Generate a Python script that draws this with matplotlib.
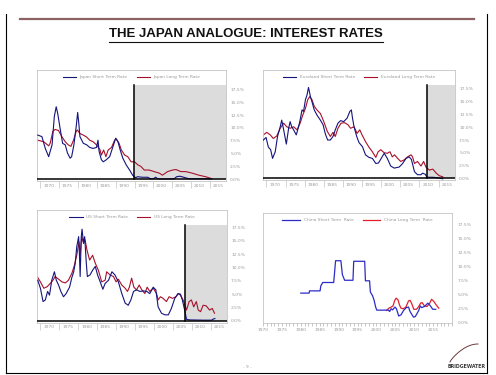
import numpy as np
import matplotlib
matplotlib.use("Agg")
import matplotlib.pyplot as plt
from matplotlib.lines import Line2D

W, H = 496, 375

# ---- data (% p.a.) ----
jp_short_yr = [1969.3, 1970.4, 1971.3, 1972.2, 1973.1, 1973.7, 1974.2, 1974.6, 1975.3, 1975.9,
               1976.6, 1977.2, 1977.9, 1978.3, 1978.9, 1979.5, 1979.9, 1980.2, 1980.5, 1981.4,
               1982.3, 1983.1, 1984.0, 1984.9, 1985.3, 1985.6, 1986.2, 1986.7, 1987.5, 1988.4,
               1989.3, 1990.0, 1990.6, 1991.2, 1991.9, 1992.8, 1993.7, 1994.5, 1995.3, 1995.8,
               1997.0, 1998.5, 1999.3, 2000.0, 2000.6, 2001.2, 2003.0, 2005.5, 2006.2, 2007.0,
               2007.6, 2008.5, 2009.5, 2012.0, 2015.2]
jp_short = [8.6, 8.3, 6.0, 4.4, 6.7, 12.2, 14.1, 12.8, 9.6, 7.0,
            6.7, 5.1, 4.1, 4.4, 6.7, 10.2, 13.0, 10.9, 8.3, 7.0,
            6.7, 6.2, 6.0, 6.2, 7.6, 5.4, 3.8, 3.4, 3.8, 4.4,
            6.4, 8.0, 7.3, 5.7, 4.1, 2.8, 1.8, 0.8, 0.3, 0.5,
            0.4, 0.4, 0.1, 0.1, 0.4, 0.1, 0.05, 0.1, 0.5, 0.6,
            0.5, 0.3, 0.1, 0.1, 0.1]
jp_long_yr = [1969.3, 1970.9, 1972.2, 1972.6, 1973.3, 1973.9, 1974.8, 1975.7, 1976.6, 1977.4,
              1978.1, 1978.8, 1979.5, 1979.8, 1980.5, 1981.4, 1982.3, 1983.1, 1984.0, 1984.9,
              1985.8, 1986.2, 1986.8, 1987.4, 1988.0, 1988.9, 1989.7, 1990.2, 1990.9, 1991.5,
              1992.4, 1993.2, 1994.1, 1995.0, 1995.9, 1996.7, 1997.6, 1998.9, 2000.2, 2001.6,
              2002.4, 2003.8, 2005.1, 2006.0, 2007.3, 2008.6, 2010.3, 2012.1, 2013.9, 2015.2, 2015.6]
jp_long = [7.6, 7.3, 6.5, 7.0, 9.3, 9.7, 9.5, 8.3, 7.3, 6.7,
           6.4, 7.6, 9.3, 9.6, 8.9, 8.6, 8.2, 7.6, 7.3, 6.7,
           5.8, 4.7, 5.7, 4.4, 5.7, 6.2, 7.6, 7.8, 7.0, 5.7,
           4.7, 4.4, 3.4, 3.4, 2.8, 2.5, 1.8, 1.8, 1.5, 1.2,
           0.8, 1.5, 1.8, 1.9, 1.5, 1.5, 1.2, 0.8, 0.5, 0.2, 0.05]

eu_short_yr = [1969.2, 1969.9, 1970.5, 1971.1, 1971.6, 1972.3, 1972.9, 1973.6, 1974.0, 1974.5,
               1975.2, 1975.8, 1976.2, 1976.6, 1977.1, 1977.8, 1978.4, 1978.8, 1979.3, 1979.7,
               1980.2, 1980.6, 1981.0, 1981.5, 1981.9, 1982.5, 1983.2, 1984.1, 1984.8, 1985.4,
               1986.0, 1986.7, 1987.4, 1988.0, 1988.7, 1989.4, 1990.2, 1991.1, 1991.8, 1992.2,
               1992.5, 1992.9, 1993.6, 1994.2, 1995.1, 1995.9, 1996.8, 1997.7, 1998.6, 1999.3,
               2000.8, 2001.6, 2002.5, 2003.4, 2004.7, 2005.6, 2006.5, 2007.3, 2007.9, 2008.7,
               2009.5, 2010.4, 2010.8, 2011.5, 2012.0, 2013.5, 2014.8, 2016.1]
eu_short = [7.5, 8.0, 6.1, 5.6, 3.9, 5.2, 8.2, 10.1, 11.4, 9.5,
            6.7, 9.8, 11.1, 10.1, 9.5, 8.5, 10.1, 11.4, 13.4, 13.1,
            15.4, 16.3, 17.8, 16.0, 15.0, 13.4, 12.4, 11.4, 10.5, 8.7,
            7.5, 7.5, 8.2, 9.5, 10.8, 11.3, 11.1, 11.8, 13.1, 13.4,
            11.8, 10.1, 8.2, 7.0, 6.2, 4.6, 4.1, 3.9, 2.9, 3.0,
            4.9, 3.9, 2.4, 2.0, 2.2, 2.9, 3.9, 4.2, 3.7, 1.3,
            0.7, 0.7, 1.0, 0.8, 0.2, 0.2, 0.1, -0.1]
eu_long_yr = [1969.2, 1970.1, 1971.0, 1971.8, 1972.7, 1973.6, 1974.5, 1975.3, 1976.2, 1977.1,
              1978.0, 1978.8, 1979.5, 1980.2, 1980.8, 1981.3, 1981.9, 1982.5, 1983.2, 1984.1,
              1985.0, 1985.9, 1986.7, 1987.4, 1988.0, 1988.7, 1989.5, 1990.4, 1991.3, 1992.0,
              1992.9, 1993.7, 1994.4, 1995.0, 1995.9, 1996.8, 1997.7, 1998.6, 1999.2, 1999.9,
              2000.8, 2001.6, 2002.3, 2002.9, 2003.5, 2004.3, 2005.1, 2006.0, 2006.9, 2007.8,
              2008.2, 2008.7, 2009.5, 2010.4, 2011.1, 2011.7, 2012.6, 2013.5, 2014.4, 2015.2, 2016.1]
eu_long = [8.5, 9.0, 8.5, 7.8, 8.3, 9.8, 10.8, 10.1, 9.8, 10.1,
           9.5, 10.8, 12.4, 13.7, 15.4, 16.0, 15.4, 14.1, 13.4, 12.7,
           11.1, 9.2, 8.2, 9.0, 8.2, 9.8, 10.8, 10.9, 10.5, 9.8,
           10.1, 8.8, 9.5, 8.5, 7.2, 6.1, 5.2, 4.1, 5.2, 5.6,
           5.0, 4.9, 5.2, 4.2, 4.6, 3.9, 3.3, 3.6, 4.2, 4.6,
           4.2, 2.9, 3.3, 2.4, 3.3, 2.2, 1.6, 1.8, 1.0, 0.5, 0.3]

us_short_yr = [1969.3, 1970.0, 1970.7, 1971.3, 1971.9, 1972.4, 1973.0, 1973.7, 1974.2, 1974.8,
               1975.4, 1976.1, 1976.8, 1977.7, 1978.3, 1978.8, 1979.2, 1979.6, 1980.1, 1980.3,
               1980.5, 1980.8, 1981.0, 1981.4, 1981.7, 1982.1, 1982.4, 1983.1, 1983.8, 1984.5,
               1985.1, 1985.8, 1986.5, 1987.1, 1988.0, 1988.9, 1989.7, 1990.6, 1991.5, 1992.4,
               1993.2, 1993.9, 1994.6, 1995.4, 1996.3, 1997.2, 1998.1, 1998.9, 1999.8, 2000.5,
               2001.1, 2002.0, 2002.9, 2003.8, 2004.6, 2005.5, 2006.4, 2007.0, 2007.5, 2008.2,
               2008.6, 2009.5, 2013.0, 2015.2, 2015.8, 2016.1]
us_short = [7.6, 6.1, 3.6, 3.9, 5.5, 4.8, 7.6, 9.2, 7.6, 6.7,
            5.5, 4.5, 5.1, 6.3, 8.1, 9.2, 10.8, 13.9, 15.8, 12.7,
            8.3, 15.8, 17.2, 14.5, 15.8, 11.1, 8.3, 8.6, 9.5, 10.2,
            8.6, 7.3, 5.9, 7.0, 7.6, 9.2, 8.6, 7.3, 5.1, 3.3,
            2.9, 3.9, 5.5, 5.8, 5.5, 5.6, 5.5, 5.1, 6.3, 5.8,
            2.6, 1.4, 1.1, 1.1, 2.3, 4.2, 5.1, 5.0, 3.9, 1.7,
            0.25, 0.15, 0.1, 0.1, 0.35, 0.4]
us_long_yr = [1969.3, 1970.0, 1970.9, 1971.8, 1972.6, 1973.3, 1973.9, 1974.8, 1975.7, 1976.6,
              1977.4, 1978.3, 1978.9, 1979.6, 1980.2, 1980.5, 1980.9, 1981.3, 1981.8, 1982.3,
              1983.0, 1983.8, 1984.5, 1985.3, 1986.2, 1987.1, 1987.5, 1988.4, 1989.3, 1990.0,
              1990.6, 1991.5, 1992.4, 1993.0, 1993.5, 1994.1, 1994.7, 1995.4, 1996.1, 1996.7,
              1997.6, 1998.2, 1998.9, 1999.8, 2000.7, 2001.1, 2001.7, 2002.4, 2003.3, 2004.0,
              2004.9, 2005.8, 2006.4, 2007.0, 2007.7, 2008.1, 2008.6, 2009.3, 2009.9, 2010.5,
              2011.2, 2011.7, 2012.3, 2013.0, 2013.8, 2014.7, 2015.4, 2016.0]
us_long = [8.1, 7.3, 6.1, 6.4, 7.0, 7.6, 8.3, 7.8, 7.3, 7.1,
           7.6, 8.9, 10.2, 12.3, 14.8, 12.3, 15.8, 14.8, 15.2, 13.3,
           11.4, 12.3, 10.8, 9.5, 7.3, 7.6, 9.2, 8.6, 8.3, 7.3,
           7.8, 6.7, 6.1, 5.5, 6.3, 8.0, 6.3, 5.8, 6.7, 5.9,
           5.1, 6.3, 5.5, 6.1, 5.1, 3.9, 4.5, 4.2, 3.6, 4.5,
           4.2, 4.5, 5.1, 4.8, 3.9, 3.1, 2.0, 3.6, 3.9, 2.6,
           3.6, 2.0, 1.7, 2.9, 2.8, 2.0, 2.3, 1.4]

cn_short_yr = [1980.0, 1982.2, 1982.3, 1985.1, 1985.3, 1985.8, 1988.7, 1988.9, 1989.2, 1990.6,
               1991.0, 1991.6, 1993.8, 1994.0, 1996.9, 1997.1, 1998.2, 1998.4, 1999.0, 1999.4,
               1999.8, 2000.1, 2003.2, 2003.5, 2003.9, 2004.3, 2004.9, 2005.3, 2005.9, 2006.5,
               2007.2, 2007.9, 2008.5, 2008.9, 2009.8, 2010.3, 2011.2, 2011.6, 2012.0, 2012.7,
               2013.6, 2014.2, 2014.9, 2015.7]
cn_short = [5.3, 5.3, 5.7, 5.7, 6.6, 7.2, 7.2, 8.7, 11.1, 11.1,
            8.6, 7.6, 7.6, 11.0, 11.0, 7.5, 7.5, 5.5, 4.8, 4.0,
            2.8, 2.25, 2.25, 2.0, 2.5, 2.3, 2.8, 2.5, 1.2, 1.4,
            2.2, 2.7, 2.8, 2.0, 1.0, 1.1, 2.2, 3.0, 2.7, 2.9,
            3.5, 3.1, 2.4, 2.4]
cn_long_yr = [2002.7, 2003.3, 2003.9, 2004.4, 2004.8, 2005.2, 2005.7, 2006.1, 2006.5, 2007.1,
              2007.8, 2008.5, 2008.9, 2009.3, 2009.9, 2010.6, 2011.2, 2011.7, 2012.1, 2012.7,
              2013.4, 2014.1, 2014.6, 2015.2, 2015.8, 2016.5]
cn_long = [2.2, 2.6, 2.8, 3.0, 3.9, 4.4, 4.1, 3.2, 2.6, 2.5,
           2.8, 3.9, 4.0, 3.5, 2.4, 2.4, 2.9, 3.5, 3.6, 3.0,
           2.9, 3.5, 4.2, 3.8, 3.2, 2.6]

year_labels = list(range(1970, 2016, 5))
pct_ticks = [0, 2.5, 5, 7.5, 10, 12.5, 15, 17.5]

NAVY = "#14147d"
MAROON = "#a8102a"
GRID_GRAY = "#c4c4c4"
TXT_GRAY = "#9a9a9a"
SHADE = "#dcdcdc"

fig = plt.figure(figsize=(W / 100, H / 100), dpi=100)
fig.patch.set_facecolor("white")


def add_box(x0, y0, x1, y1):
    return fig.add_axes([x0 / W, 1 - y1 / H, (x1 - x0) / W, (y1 - y0) / H])


def rate_panel(box, p0, ppp, short, long_, names, zero_year, shade_top, xlim=(1969.1, 2019.3)):
    x0, y0, x1, y1 = box
    ax = add_box(*box)
    ax.set_xlim(*xlim)
    ax.set_ylim(-(y1 - p0) / ppp, (p0 - y0) / ppp)
    for s in ax.spines.values():
        s.set_color(GRID_GRAY)
        s.set_linewidth(0.6)
    # shaded "post zero-bound" region
    ax.fill_between([zero_year, xlim[1]], 0, shade_top, color=SHADE, lw=0, zorder=0)
    ax.plot(short[0], short[1], color=NAVY, lw=0.8, label=names[0], zorder=3)
    ax.plot(long_[0], long_[1], color=MAROON, lw=0.8, label=names[1], zorder=2)
    ax.axhline(0, color="black", lw=1.1, zorder=4)
    ax.plot([zero_year, zero_year], [0, shade_top], color="black", lw=1.1, zorder=4)

    ax.yaxis.tick_right()
    ax.set_yticks(pct_ticks)
    ax.set_yticklabels([f"{v:.1f}%" for v in pct_ticks])
    ax.tick_params(axis="y", length=0, pad=3, labelsize=3.2, labelcolor=TXT_GRAY)

    ax.set_xticks(year_labels)
    ax.set_xticklabels([])
    ax.tick_params(axis="x", which="major", length=5, width=0.5, color=GRID_GRAY, direction="out")
    ax.set_xticks([y + 2.2 for y in year_labels], minor=True)
    ax.set_xticklabels([str(y) for y in year_labels], minor=True)
    ax.tick_params(axis="x", which="minor", length=0, pad=2, labelsize=3.2, labelcolor=TXT_GRAY)

    ax.legend(loc="upper center", bbox_to_anchor=(0.5, 0.98), ncol=2, frameon=False,
              fontsize=3.2, handlelength=3, columnspacing=2, labelcolor=TXT_GRAY,
              borderpad=0.2)
    return ax


rate_panel((37, 70, 226, 181), 179.3, 5.143,
           (jp_short_yr, jp_short), (jp_long_yr, jp_long),
           ("Japan Short Term Rate", "Japan Long Term Rate"), 1994.9, 18.3)
rate_panel((263, 70, 455, 180), 178.3, 5.104,
           (eu_short_yr, eu_short), (eu_long_yr, eu_long),
           ("Euroland Short Term Rate", "Euroland Long Term Rate"), 2011.9, 18.3)
rate_panel((37, 210, 227, 322.5), 320.7, 5.32,
           (us_short_yr, us_short), (us_long_yr, us_long),
           ("US Short Term Rate", "US Long Term Rate"), 2008.3, 18.0)

# China panel: plain, no shading
ax = add_box(263, 213, 452, 322.7)
ax.set_xlim(1970, 2020)
ax.set_ylim(0, (322.7 - 213) / 5.584)
for s in ax.spines.values():
    s.set_color(GRID_GRAY)
    s.set_linewidth(0.6)
ax.plot(cn_short_yr, cn_short, color="#2b2bc8", lw=0.9, label="China Short Term  Rate", zorder=3)
ax.plot(cn_long_yr, cn_long, color="#e0202c", lw=0.9, label="China Long Term  Rate", zorder=2)
ax.yaxis.tick_right()
ax.set_yticks(pct_ticks)
ax.set_yticklabels([f"{v:.1f}%" for v in pct_ticks])
ax.tick_params(axis="y", length=0, pad=4, labelsize=3.2, labelcolor=TXT_GRAY)
ax.set_xticks(list(range(1970, 2021, 5)))
ax.set_xticklabels([str(y) for y in range(1970, 2021, 5)][:-1] + [""])
ax.set_xticks(list(range(1970, 2021)), minor=True)
ax.tick_params(axis="x", which="both", length=2, width=0.4, color=TXT_GRAY, direction="out",
               pad=2, labelsize=3.2, labelcolor=TXT_GRAY)
ax.legend(loc="upper center", bbox_to_anchor=(0.5, 0.98), ncol=2, frameon=False,
          fontsize=3.2, handlelength=4, columnspacing=2, labelcolor=TXT_GRAY, borderpad=0.2)

# ---- slide decoration ----
fig.add_artist(Line2D([20 / W, 474 / W], [1 - 19 / H] * 2, color="#8c6262", lw=1.6))
for xs, ys in [([6, 6], [14, 372.5]), ([487, 487], [14, 372.5]), ([6, 487], [372.5, 372.5])]:
    fig.add_artist(Line2D([x / W for x in xs], [1 - y / H for y in ys], color="black", lw=0.8))

title = fig.text(246 / W, 1 - 34 / H, "THE JAPAN ANALOGUE: INTEREST RATES", ha="center",
                 va="center", fontsize=9.5, fontweight="bold", color="#111111",
                 family="Liberation Sans")
fig.canvas.draw()
bb = title.get_window_extent()
fig.add_artist(Line2D([bb.x0 / W, bb.x1 / W], [(bb.y0 - 1.5) / H] * 2, color="#111111", lw=0.8))

fig.text(247 / W, 1 - 367 / H, "- 9 -", ha="center", va="center", fontsize=3.2, color=TXT_GRAY)
fig.text(467 / W, 1 - 366 / H, "BRIDGEWATER", ha="center", va="center", fontsize=3.4,
         fontweight="bold", color="#3a3a3a")
t = np.linspace(0, 1, 30)
sx = 450 + 28 * t
sy = 362 - 18 * np.sin(t * np.pi / 2) ** 0.8
fig.add_artist(Line2D(sx / W, 1 - sy / H, color="#6a3a3a", lw=0.7))

fig.savefig("out.png", dpi=100, facecolor="white")
